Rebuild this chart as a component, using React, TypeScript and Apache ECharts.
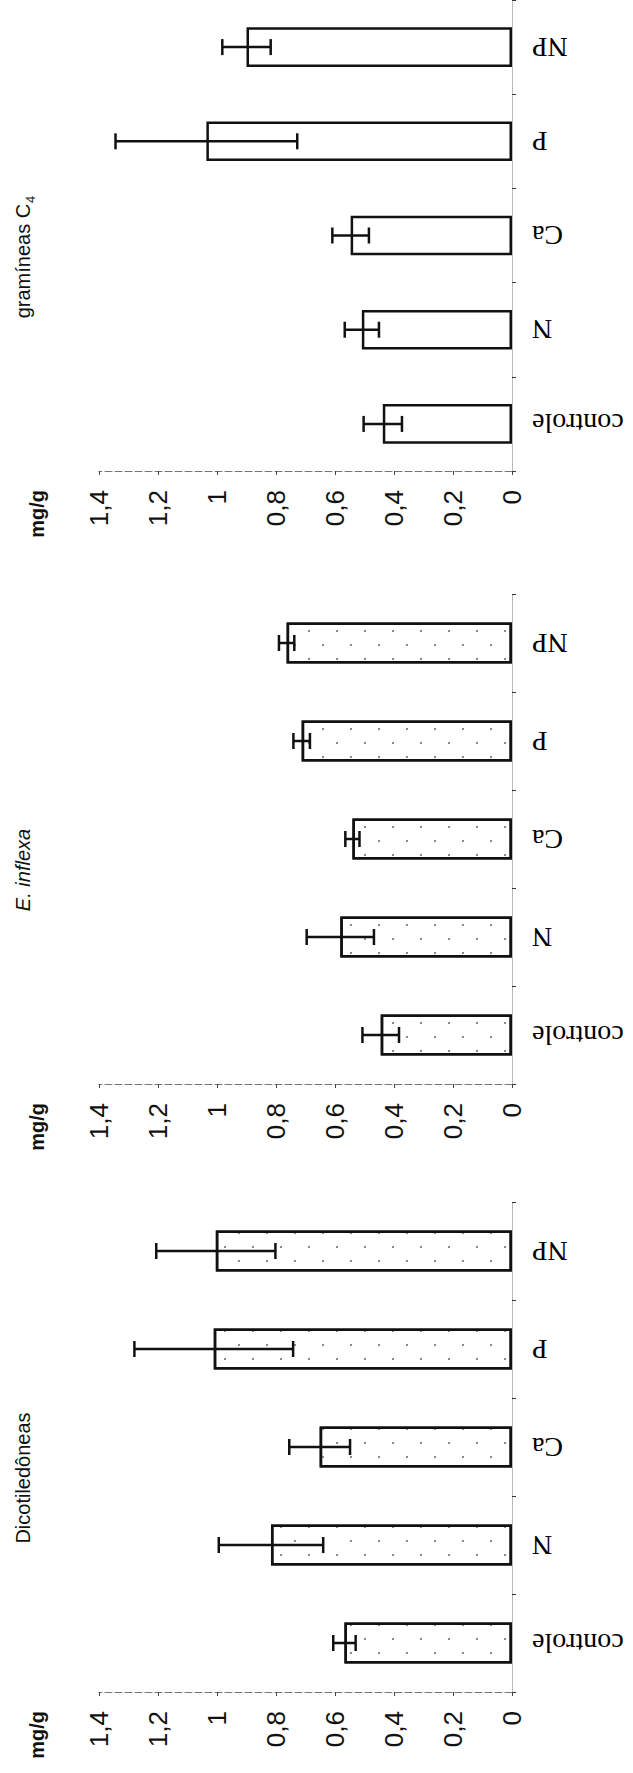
import React, { useEffect, useRef } from "react";
import * as echarts from "echarts";

const categories = ["controle", "N", "Ca", "P", "NP"];
const tickLabels = ["0", "0,2", "0,4", "0,6", "0,8", "1", "1,2", "1,4"];
const unitLabel = "mg/g";

const graminValues = [0.438, 0.509, 0.547, 1.036, 0.9];
const graminErrors = [0.065, 0.058, 0.062, 0.308, 0.082];
const inflexaValues = [0.445, 0.582, 0.541, 0.713, 0.764];
const inflexaErrors = [0.062, 0.114, 0.024, 0.028, 0.026];
const dicotValues = [0.568, 0.817, 0.652, 1.011, 1.004];
const dicotErrors = [0.038, 0.177, 0.103, 0.269, 0.202];

const W = 633;
const H = 1773;
const GRID_LEFT = 99;
const GRID_RIGHT = 121;
const GRID_H = 490;
const panelTops = [-19, 594, 1202];

const dotDecal = {
  symbol: "rect",
  symbolSize: 1,
  color: "#8a8a8a",
  backgroundColor: null,
  dashArrayX: [
    [2, 26],
    [0, 14, 2, 12],
  ],
  dashArrayY: [2, 12],
};

function errRender(params: any, api: any) {
  const v = api.value(0);
  const c = api.value(1);
  const e = api.value(2);
  const a = api.coord([v - e, c]);
  const b = api.coord([v + e, c]);
  const h = 8;
  const st = { stroke: "#111", lineWidth: 2.5 };
  return {
    type: "group",
    children: [
      { type: "line", shape: { x1: a[0], y1: a[1], x2: b[0], y2: b[1] }, style: st },
      { type: "line", shape: { x1: a[0], y1: a[1] - h, x2: a[0], y2: a[1] + h }, style: st },
      { type: "line", shape: { x1: b[0], y1: b[1] - h, x2: b[0], y2: b[1] + h }, style: st },
    ],
  };
}

export default function App() {
  const ref = useRef<HTMLDivElement>(null);
  useEffect(() => {
    if (!ref.current) return;
    const chart = echarts.init(ref.current, null, { renderer: "svg" });
    const panels = [
      { values: graminValues, errors: graminErrors, decal: null },
      { values: inflexaValues, errors: inflexaErrors, decal: dotDecal },
      { values: dicotValues, errors: dicotErrors, decal: dotDecal },
    ];
    const grids = panelTops.map((t) => ({
      left: GRID_LEFT,
      right: GRID_RIGHT,
      top: t,
      height: GRID_H,
    }));
    const xAxes = panelTops.map((_, i) => ({
      type: "value",
      gridIndex: i,
      inverse: true,
      min: 0,
      max: 1.4,
      interval: 0.2,
      position: "bottom",
      axisLine: { show: true, lineStyle: { color: "#777", width: 1, type: [7, 3] } },
      axisTick: { show: true, length: 4, lineStyle: { color: "#444" } },
      splitLine: { show: false },
      axisLabel: {
        rotate: 90,
        margin: 19,
        fontSize: 26,
        color: "#111",
        fontFamily: "Liberation Sans, Arial, sans-serif",
        formatter: (v: number) => tickLabels[Math.round(v / 0.2)],
      },
    }));
    const yAxes = panelTops.map((_, i) => ({
      type: "category",
      gridIndex: i,
      data: categories,
      position: "right",
      axisLine: { show: true, lineStyle: { color: "#aaa", width: 1, type: "dotted" } },
      axisTick: { show: true, length: 4, lineStyle: { color: "#333" } },
      axisLabel: {
        rotate: 180,
        margin: 20,
        fontSize: 28,
        color: "#000",
        fontFamily: "Liberation Serif, Times New Roman, serif",
      },
    }));
    const series: any[] = [];
    panels.forEach((p, i) => {
      series.push({
        type: "bar",
        xAxisIndex: i,
        yAxisIndex: i,
        data: p.values,
        barWidth: "42%",
        itemStyle: Object.assign(
          { color: "#ffffff", borderColor: "#111", borderWidth: 2.5 },
          p.decal ? { decal: p.decal } : {}
        ),
        z: 2,
      });
      series.push({
        type: "custom",
        xAxisIndex: i,
        yAxisIndex: i,
        renderItem: errRender,
        encode: { x: 0, y: 1 },
        data: p.values.map((v, k) => [v, k, p.errors[k]]),
        z: 5,
      });
    });

    const spacing = GRID_H / categories.length;
    const titleY = panelTops.map((t) => t + 2.5 * spacing + 31);
    const axisY = panelTops.map((t) => t + GRID_H);
    const titleFont = "Liberation Sans, Arial, sans-serif";
    const graphic: any[] = [
      {
        type: "text",
        x: 23,
        y: titleY[0],
        rotation: Math.PI / 2,
        style: {
          text: "gramíneas C{sub|4}",
          fontSize: 20,
          fontFamily: titleFont,
          fill: "#111",
          align: "center",
          verticalAlign: "middle",
          rich: { sub: { fontSize: 13, verticalAlign: "bottom", fontFamily: titleFont, fill: "#111", padding: [0, 0, -4, 1] } },
        },
      },
      {
        type: "text",
        x: 23,
        y: titleY[1],
        rotation: Math.PI / 2,
        style: {
          text: "E. inflexa",
          fontSize: 20,
          fontStyle: "italic",
          fontFamily: titleFont,
          fill: "#111",
          align: "center",
          verticalAlign: "middle",
        },
      },
      {
        type: "text",
        x: 23,
        y: titleY[2],
        rotation: Math.PI / 2,
        style: {
          text: "Dicotiledôneas",
          fontSize: 20,
          fontFamily: titleFont,
          fill: "#111",
          align: "center",
          verticalAlign: "middle",
        },
      },
    ];
    axisY.forEach((ay) => {
      graphic.push({
        type: "text",
        x: 37,
        y: ay + 19,
        rotation: Math.PI / 2,
        style: {
          text: unitLabel,
          fontSize: 20,
          fontWeight: "bold",
          fontFamily: titleFont,
          fill: "#111",
          align: "right",
          verticalAlign: "middle",
        },
      });
    });

    chart.setOption({
      animation: false,
      backgroundColor: "#ffffff",
      grid: grids,
      xAxis: xAxes,
      yAxis: yAxes,
      series,
      graphic,
    });
    return () => chart.dispose();
  }, []);
  return (
    <div
      ref={ref}
      style={{ position: "absolute", left: 0, top: 0, width: W, height: H, background: "#fff" }}
    />
  );
}
